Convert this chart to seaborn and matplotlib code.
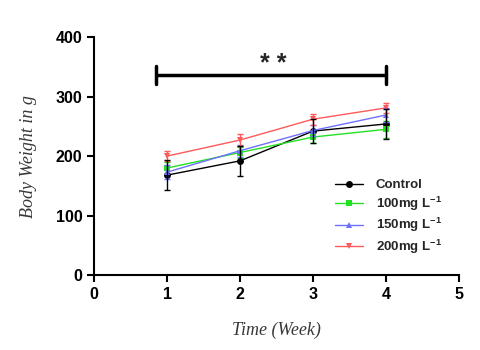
import numpy as np
import pandas as pd
import seaborn as sns
import matplotlib.pyplot as plt

# values
weeks = [1, 2, 3, 4]
groups = ['Control', '100mg L$^{-1}$', '150mg L$^{-1}$', '200mg L$^{-1}$']
control = [168, 192, 242, 254]
mg100 = [180, 206, 232, 245]
mg150 = [173, 209, 243, 269]
mg200 = [200, 227, 262, 281]
control_err = [25, 25, 20, 25]
mg100_err = [10, 10, 10, 14]
mg150_err = [12, 10, 10, 12]
mg200_err = [8, 10, 9, 9]

colors = ['black', '#22e022', '#6f6fff', '#ff5a5a']
markers = ['o', 's', '^', 'v']

sns.set_style('ticks')
plt.rcParams['font.family'] = ['Liberation Sans', 'DejaVu Sans']
plt.rcParams['mathtext.fontset'] = 'custom'
plt.rcParams['mathtext.rm'] = 'Liberation Sans:bold'
plt.rcParams['mathtext.default'] = 'rm'

means = [control, mg100, mg150, mg200]
errs = [control_err, mg100_err, mg150_err, mg200_err]
df = pd.DataFrame({
    'Week': weeks * 4,
    'Weight': sum(means, []),
    'Err': sum(errs, []),
    'Group': np.repeat(groups, len(weeks)),
})

fig = plt.figure(figsize=(4.8, 3.5), dpi=100)
ax = fig.add_axes([0.196, 0.214, 0.76, 0.68])

zorders = [5, 2, 3, 4]
for g, c, m, z in zip(groups, colors, markers, zorders):
    sub = df[df['Group'] == g]
    ax.errorbar(sub['Week'], sub['Weight'], yerr=sub['Err'], fmt='none',
                ecolor=c, elinewidth=1, capsize=2.5, capthick=1, zorder=z)
sns.lineplot(data=df, x='Week', y='Weight', hue='Group', style='Group',
             palette=colors, markers=markers, dashes=False, linewidth=1,
             markersize=5, markeredgewidth=0, ax=ax, legend=True)
for line, z in zip(ax.lines[-4:], zorders):
    line.set_zorder(z + 0.5)

# significance bar
ax.plot([0.85, 4], [337, 337], color='black', lw=2.5, solid_capstyle='butt',
        clip_on=False)
ax.plot([0.85, 0.85], [322, 352], color='black', lw=2.5, clip_on=False)
ax.plot([4, 4], [322, 352], color='black', lw=2.5, clip_on=False)
ax.text(2.45, 343, '* *', ha='center', va='baseline', fontsize=18,
        fontweight='bold')

ax.set_xlim(0, 5)
ax.set_ylim(0, 400)
ax.set_xticks([0, 1, 2, 3, 4, 5])
ax.set_yticks([0, 100, 200, 300, 400])
sns.despine(ax=ax)
for s in ['left', 'bottom']:
    ax.spines[s].set_linewidth(1.5)
    ax.spines[s].set_color('black')
    ax.spines[s].set_clip_on(False)
ax.tick_params(width=1.5, length=5, labelsize=11.5, color='black',
               labelcolor='black')
for lab in ax.get_xticklabels() + ax.get_yticklabels():
    lab.set_fontweight('bold')

ax.set_xlabel('Time (Week)', family='Liberation Serif', style='italic',
              fontsize=13, color='#383838', labelpad=14)
ax.set_ylabel('Body Weight in g', family='Liberation Serif', style='italic',
              fontsize=13, color='#383838', labelpad=13)

leg = ax.legend(loc='upper left', bbox_to_anchor=(335 / 480, 1 - 179 / 350),
                bbox_transform=fig.transFigure, frameon=False,
                fontsize=9.5, handlelength=2.1, labelspacing=0.25,
                handletextpad=1.0, borderpad=0, borderaxespad=0)
for t in leg.get_texts():
    t.set_fontweight('bold')

fig.savefig('out.png', dpi=100)
